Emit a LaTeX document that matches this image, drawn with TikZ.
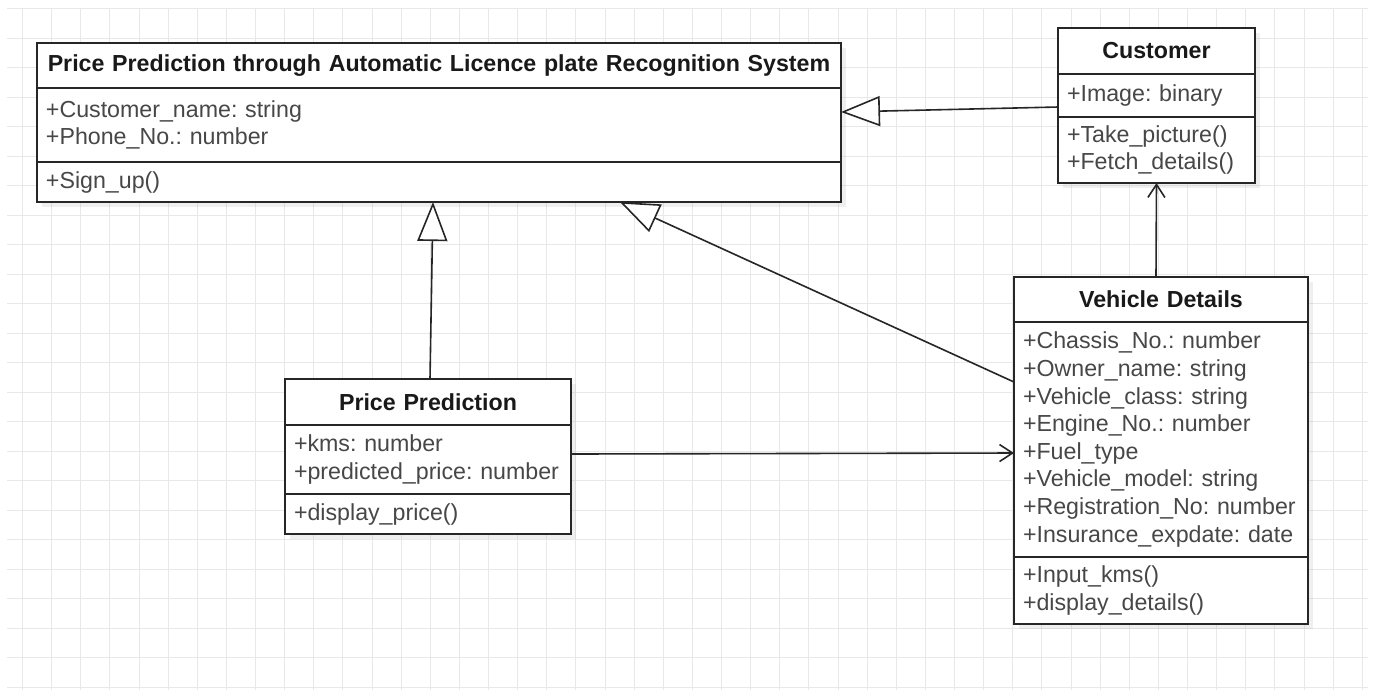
\documentclass[tikz,border=0pt]{standalone}
\usepackage{fontspec}
\setmainfont{Liberation Sans}
\usetikzlibrary{positioning,arrows.meta,shadows}

\begin{document}
\begin{tikzpicture}[
	x=0.5pt, y=-0.5pt,
	every node/.style={font=\fontsize{11.6}{13.8}\selectfont, inner sep=0pt, outer sep=0pt,
		execute at begin node={\frenchspacing\hyphenpenalty=10000}},
	gridline/.style={draw=black!9, line width=0.5pt},
	box/.style={draw=black!85, line width=1pt, fill=white, inner xsep=4.5pt, text width=#1,
		drop shadow={opacity=0.12, shadow xshift=2.5pt, shadow yshift=-2.5pt}},
	head/.style={box=#1, align=center, font=\fontsize{11.6}{13.8}\selectfont\bfseries, text=black!90},
	body/.style={box=#1, align=left, text=black!72},
	gen/.style={draw=black!85, line width=0.8pt, -{Triangle[open, length=19.5pt, width=15pt, fill=white]}},
	dep/.style={draw=black!85, line width=0.8pt, -{Straight Barb[length=6.5pt, width=8.5pt]}}]

\useasboundingbox[fill=white] (0,0) rectangle (1373,693);
\foreach \gx in {0,...,46}
	\draw[gridline] ({22.5+\gx*29.125},8) -- ({22.5+\gx*29.125},690);
\foreach \gy in {0,...,23}
	\draw[gridline] (7,{8.5+\gy*29.5}) -- (1368,{8.5+\gy*29.5});

\node[head=393pt, minimum height=22.5pt] (sysT) at (439,65.5)
	{Price Prediction through Automatic Licence plate Recognition System};
\node[body=393pt, minimum height=37pt, below=0pt of sysT] (sysA)
	{+Customer\_name: string\\+Phone\_No.: number};
\node[body=393pt, minimum height=20pt, below=0pt of sysA] (sysM)
	{+Sign\_up()};

\node[head=89.5pt, minimum height=23pt] (custT) at (1156.5,51) {Customer};
\node[body=89.5pt, minimum height=21.5pt, below=0pt of custT] (custA)
	{+Image: binary};
\node[body=89.5pt, minimum height=33pt, below=0pt of custA] (custM)
	{+Take\_picture()\\+Fetch\_details()};

\node[head=138pt, minimum height=22.5pt] (vehT) at (1161,299.5) {Vehicle Details};
\node[body=138pt, minimum height=117.5pt, below=0pt of vehT] (vehA)
	{+Chassis\_No.: number\\+Owner\_name: string\\+Vehicle\_class: string\\+Engine\_No.: number\\
	+Fuel\_type\\+Vehicle\_model: string\\+Registration\_No: number\\+Insurance\_expdate: date};
\node[body=138pt, minimum height=33.5pt, below=0pt of vehA] (vehM)
	{+Input\_kms()\\+display\_details()};

\node[head=134pt, minimum height=23pt] (priceT) at (428,402) {Price Prediction};
\node[body=134pt, minimum height=34.5pt, below=0pt of priceT] (priceA)
	{+kms: number\\+predicted\_price: number};
\node[body=134pt, minimum height=20pt, below=0pt of priceA] (priceM)
	{+display\_price()};

\draw[gen] ([yshift=-5.75pt]custA.west) -- ([yshift=6.5pt]sysA.east);
\draw[gen] ([xshift=1pt]priceT.north) -- ([xshift=-3pt]sysM.south);
\draw[gen] ([yshift=28.75pt]vehA.west) -- ([xshift=90.5pt]sysM.south);
\draw[dep] ([xshift=-2.5pt]vehT.north) -- (custM.south);
\draw[dep] ([yshift=2.75pt]priceA.east) -- ([yshift=-6.75pt]vehA.west);
\end{tikzpicture}
\end{document}
